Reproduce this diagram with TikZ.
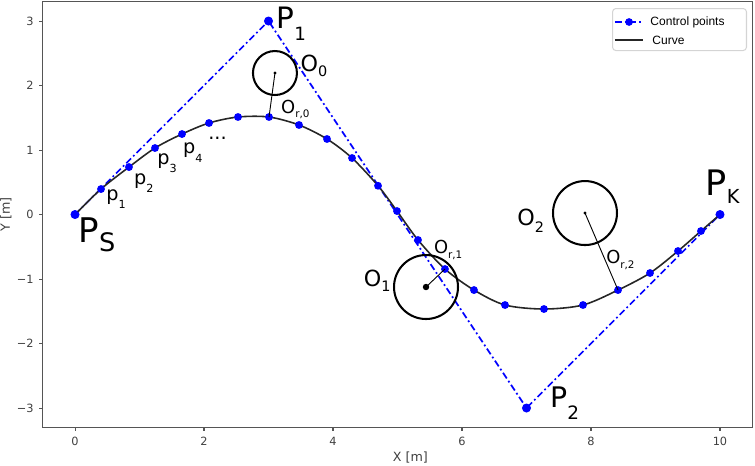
\documentclass[tikz,border=0pt]{standalone}
\usepackage{fontspec}
\usepackage{graphicx}
\usepackage{tikz}
\usetikzlibrary{positioning}
\setmainfont{DejaVu Sans}
\newfontfamily\legendfont{Liberation Sans}
\definecolor{CDot}{HTML}{0000FF}
\definecolor{CFrame}{HTML}{555555}
\definecolor{CTick}{HTML}{404040}
\definecolor{CLegend}{HTML}{D4D4D4}
\newcommand{\idx}[3]{\raisebox{-#1}{\scalebox{#2}{#3}}}

\begin{document}
\begin{tikzpicture}[every node/.style={inner sep=0pt, text=black},
  frame/.style={draw=CFrame, line width=0.55pt},
  tickmark/.style={draw=CFrame, line width=0.45pt},
  ticklabel/.style={font=\fontsize{5}{5}\selectfont, text=CTick},
  axlabel/.style={font=\fontsize{5.6}{5.6}\selectfont, text=CTick},
  ctrl/.style={draw=CDot, line width=0.75pt, dash pattern=on 3pt off 1.3pt on 0.8pt off 1.3pt},
  cp/.style={circle, fill=CDot, minimum size=0.14cm},
  curve/.style={draw=black!85, line width=0.7pt},
  pt/.style={circle, fill=CDot, minimum size=0.122cm},
  obst/.style={circle, draw=black, line width=0.9pt},
  ray/.style={draw=black, line width=0.4pt},
  bigP/.style={anchor=base west, font=\fontsize{14}{14}\selectfont},
  olabel/.style={anchor=base west, font=\fontsize{9.8}{9.8}\selectfont},
  orlabel/.style={anchor=base west, font=\fontsize{7.9}{7.9}\selectfont},
  plabel/.style={anchor=base west, font=\fontsize{8.5}{8.5}\selectfont},
  legtext/.style={anchor=west, font=\legendfont\fontsize{5.3}{5.3}\selectfont}]
\useasboundingbox (-1.163,-3.891) rectangle (10.543,3.326);
\foreach \i/\x/\y in {0/0/0, 1/0.403/0.395, 2/0.837/0.736, 3/1.240/1.031,
  4/1.659/1.248, 5/2.078/1.419, 6/2.527/1.512, 7/3.008/1.512, 8/3.473/1.388,
  9/3.907/1.171, 10/4.295/0.876, 11/4.698/0.446, 12/4.992/0.054,
  13/5.318/-0.395, 14/5.736/-0.845, 15/6.186/-1.171, 16/6.667/-1.403,
  17/7.271/-1.465, 18/7.876/-1.403, 19/8.419/-1.171, 20/8.915/-0.907,
  21/9.349/-0.566, 22/9.705/-0.256, 23/10/0}
  {\coordinate (c\i) at (\x,\y);}
\draw[frame] (-0.5,-3.3) rectangle (10.5,3.3);
\foreach \t in {0,2,...,10}
  {\draw[tickmark] (\t,-3.3) -- (\t,-3.36);
   \node[ticklabel, anchor=north] (xt\t) at (\t,-3.445) {\t};}
\foreach \v/\s in {-3/−3,-2/−2,-1/−1,0/0,1/1,2/2,3/3}
  {\draw[tickmark] (-0.5,\v) -- (-0.56,\v);
   \node[ticklabel, anchor=east] (yt\s) at (-0.635,\v) {\s};}
\node[axlabel] (xlab) at (5.2,-3.76) {X [m]};
\node[axlabel, rotate=90] (ylab) at (-1.07,0) {Y [m]};
\node[cp] (PS) at (0,0) {};
\node[cp] (P1) at (3,3) {};
\node[cp] (P2) at (7,-3) {};
\node[cp] (PK) at (10,0) {};
\draw[ctrl] (PS.center) -- (P1.center) -- (P2.center) -- (PK.center);
\draw[curve] plot[smooth] coordinates {(c0) (c1) (c2) (c3) (c4) (c5) (c6) (c7)
  (c8) (c9) (c10) (c11) (c12) (c13) (c14) (c15) (c16) (c17) (c18) (c19) (c20)
  (c21) (c22) (c23)};
\foreach \i in {0,...,23} {\node[pt] (dot\i) at (c\i) {};}
\node[obst, minimum size=0.682cm] (O0) at (3.10,2.194) {};
\node[obst, minimum size=0.992cm] (O1) at (5.442,-1.124) {};
\node[obst, minimum size=0.992cm] (O2) at (7.907,0.023) {};
\fill (O0.center) circle (0.025);
\fill (O1.center) circle (0.05);
\fill (O2.center) circle (0.025);
\draw[ray] (O0.center) -- (c7);
\draw[ray] (O1.center) -- (c14);
\draw[ray] (O2.center) -- (c19);
\node[bigP, font=\fontsize{13}{13}\selectfont] (lP1) at (3.12,2.89) {P\idx{5.3pt}{0.62}{1}};
\node[bigP, font=\fontsize{15}{15}\selectfont] (lPS) at (0.05,-0.44) {P\idx{4pt}{0.75}{S}};
\node[bigP, font=\fontsize{15.5}{15.5}\selectfont] (lPK) at (9.77,0.30) {P\idx{3.5pt}{0.55}{K}};
\node[bigP, font=\fontsize{12.5}{12.5}\selectfont] (lP2) at (7.36,-2.985) {P\idx{5.5pt}{0.65}{2}};
\node[olabel] (lO0) at (3.49,2.225) {O\idx{2.6pt}{0.65}{0}};
\node[olabel] (lO1) at (4.47,-1.12) {O\idx{2.2pt}{0.65}{1}};
\node[olabel] (lO2) at (6.85,-0.163) {O\idx{3.2pt}{0.65}{2}};
\node[orlabel] (lOr0) at (3.19,1.574) {O\idx{2.2pt}{0.58}{r,0}};
\node[orlabel] (lOr1) at (5.56,-0.597) {O\idx{2.2pt}{0.58}{r,1}};
\node[orlabel] (lOr2) at (8.23,-0.752) {O\idx{2.2pt}{0.58}{r,2}};
\node[plabel] (lp1) at (0.48,0.215) {p\idx{3.6pt}{0.58}{1}};
\node[plabel] (lp2) at (0.91,0.47) {p\idx{3.6pt}{0.58}{2}};
\node[plabel] (lp3) at (1.27,0.78) {p\idx{3.6pt}{0.58}{3}};
\node[plabel] (lp4) at (1.67,0.94) {p\idx{3.6pt}{0.58}{4}};
\node[plabel] (ldots) at (2.06,1.16) {...};
\node[draw=CLegend, fill=white, rounded corners=1.5pt, line width=0.45pt,
  minimum width=2.077cm, minimum height=0.652cm, anchor=north west] (legend) at (8.326,3.202) {};
\coordinate (lgA) at (8.37,2.985);
\coordinate (lgB) at (8.81,2.985);
\coordinate (lgC) at (8.37,2.705);
\coordinate (lgD) at (8.81,2.705);
\draw[ctrl] (lgA) -- (lgB);
\node[cp, minimum size=0.12cm] (lgdot) at (8.59,2.985) {};
\draw[curve] (lgC) -- (lgD);
\node[legtext, right=0.105cm of lgB] (lgt1) {Control points};
\node[legtext, right=0.135cm of lgD] (lgt2) {Curve};
\end{tikzpicture}
\end{document}
